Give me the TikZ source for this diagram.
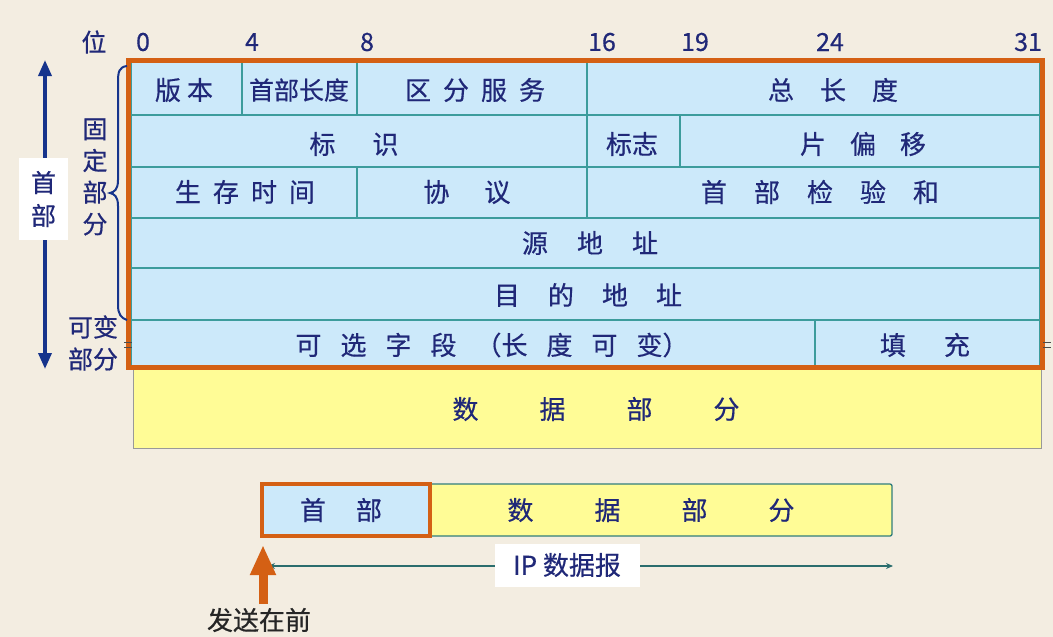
\documentclass[tikz,border=0pt]{standalone}
\usepackage{fontspec}
\setmainfont{Noto Sans CJK SC}[FakeBold=0.5]
\usetikzlibrary{arrows.meta}
\definecolor{bgc}{RGB}{243,237,225}
\definecolor{txt}{RGB}{32,40,120}
\definecolor{cellc}{RGB}{204,233,250}
\definecolor{linec}{RGB}{60,156,156}
\definecolor{orng}{RGB}{212,96,20}
\definecolor{yel}{RGB}{255,252,150}
\definecolor{navy}{RGB}{22,52,140}
\newcommand\hg[1]{\hspace{#1pt}}
\tikzset{
  cell/.style={fill=cellc, draw=linec, line width=1.3pt},
  lab/.style={text=txt, font=\fontsize{26}{30}\selectfont, inner sep=0pt, anchor=center},
  bitlab/.style={text=txt, font=\fontsize{25}{30}\selectfont, inner sep=0pt},
}
\begin{document}
\begin{tikzpicture}[x=1pt,y=-1pt]
\useasboundingbox[fill=bgc] (0,0) rectangle (1053,637);
% bit labels
\node[bitlab] (wei) at (94,42) {位};
\node[bitlab] (b0) at (143,42) {0};
\node[bitlab] (b4) at (252,42) {4};
\node[bitlab] (b8) at (367,42) {8};
\node[bitlab] (b16) at (602,42) {16};
\node[bitlab] (b19) at (695,42) {19};
\node[bitlab] (b24) at (830,42) {24};
\node[bitlab] (b31) at (1028,42) {31};
% data part
\draw[fill=yel, draw=gray!80, line width=1pt] (133,368) rectangle (1041,448);
\node[lab] (data) at (596,409) {数\hg{61}据\hg{61}部\hg{61}分};
% header cells
\draw[cell] (131,62) rectangle (242,115);
\draw[cell] (242,62) rectangle (357,115);
\draw[cell] (357,62) rectangle (587,115);
\draw[cell] (587,62) rectangle (1040,115);
\draw[cell] (131,115) rectangle (587,167);
\draw[cell] (587,115) rectangle (680,167);
\draw[cell] (680,115) rectangle (1040,167);
\draw[cell] (131,167) rectangle (357,218);
\draw[cell] (357,167) rectangle (587,218);
\draw[cell] (587,167) rectangle (1040,218);
\draw[cell] (131,218) rectangle (1040,268);
\draw[cell] (131,268) rectangle (1040,320);
\draw[cell] (131,320) rectangle (815,366);
\draw[cell] (815,320) rectangle (1040,366);
% cell texts
\node[lab] (ver) at (184,90) {版\hg{6}本};
\node[lab, font=\fontsize{25}{30}\selectfont] (hlen) at (299,90) {首部长度};
\node[lab] (tos) at (475,90) {区\hg{12}分\hg{12}服\hg{12}务};
\node[lab] (tlen) at (833,90) {总\hg{26}长\hg{26}度};
\node[lab] (ident) at (354,144) {标\hg{37}识};
\node[lab] (flag) at (632,144) {标志};
\node[lab] (frag) at (863,144) {片\hg{24}偏\hg{24}移};
\node[lab] (ttl) at (245,192) {生\hg{12}存\hg{12}时\hg{12}间};
\node[lab] (proto) at (467,192) {协\hg{35}议};
\node[lab] (csum) at (820,192) {首\hg{27}部\hg{27}检\hg{27}验\hg{27}和};
\node[lab] (src) at (590,243) {源\hg{29}地\hg{29}址};
\node[lab] (dst) at (588,295) {目\hg{28}的\hg{28}地\hg{28}址};
\node[lab] (opt) at (492,345) {可\hg{19}选\hg{19}字\hg{19}段\hg{19}（长\hg{19}度\hg{19}可\hg{19}变）};
\node[lab] (pad) at (925,345) {填\hg{38}充};
% orange frame
\draw[orng, line width=5pt] (128.5,60.5) rectangle (1042.5,367.5);
% break marks
\draw[gray!60!black, line width=1pt] (124,342) -- (132,342) (124,347) -- (132,347);
\draw[gray!60!black, line width=1pt] (1043,342) -- (1051,342) (1043,347) -- (1051,347);
% left side: header arrow
\coordinate (htop) at (45,60);
\coordinate (hbot) at (45,369);
\draw[navy, line width=3.5pt, {Triangle[width=13pt,length=16pt]}-{Triangle[width=13pt,length=16pt]}] (htop) -- (hbot);
\node[fill=white, minimum width=49pt, minimum height=82pt, inner sep=0pt, text=txt, font=\fontsize{25}{33}\selectfont, align=center] (hdrlab) at (43.5,199) {首\\部};
% brace
\draw[navy, line width=2pt] (127,66) .. controls (119,67) and (118,72) .. (118,82)
  -- (118,180) .. controls (118,190) and (114,192) .. (110,193)
  .. controls (114,194) and (118,196) .. (118,206)
  -- (118,305) .. controls (118,314) and (121,318) .. (127,320);
\node[text=txt, font=\fontsize{25}{31.7}\selectfont, align=center, inner sep=0pt] (fixed) at (95,177) {固\\定\\部\\分};
\node[text=txt, font=\fontsize{25}{32}\selectfont, align=center, inner sep=0pt] (var) at (93,343) {可变\\部分};
% bottom datagram
\draw[fill=yel, draw=linec!80!black, line width=1.3pt, rounded corners=2pt] (430,484) rectangle (892,536);
\node[lab] (bdata) at (651,510) {数\hg{61}据\hg{61}部\hg{61}分};
\node[draw=orng, line width=3.5pt, fill=cellc, minimum width=168pt, minimum height=52pt, inner sep=0pt] (bhdr) at (346,510) {};
\node[lab] (bhdrt) at (341,510) {首\hg{30}部};
\coordinate (ipl) at (268,566);
\coordinate (ipr) at (893,566);
\draw[linec!70!black, line width=1.2pt, {Stealth[width=6pt,length=7pt]}-{Stealth[width=6pt,length=7pt]}] (ipl) -- (ipr);
\node[fill=white, minimum width=145pt, minimum height=43pt, inner sep=0pt, text=txt, font=\fontsize{26}{30}\selectfont] (iplab) at (567,565) {IP 数据报};
% send first arrow
\node[text=black!85, font=\fontsize{26}{30}\selectfont, inner sep=0pt] (send) at (259,620) {发送在前};
\coordinate (sendtip) at (263,545);
\draw[orng, line width=9pt, -{Triangle[width=24pt,length=30pt]}] (263,604) -- (sendtip);
\end{tikzpicture}
\end{document}
